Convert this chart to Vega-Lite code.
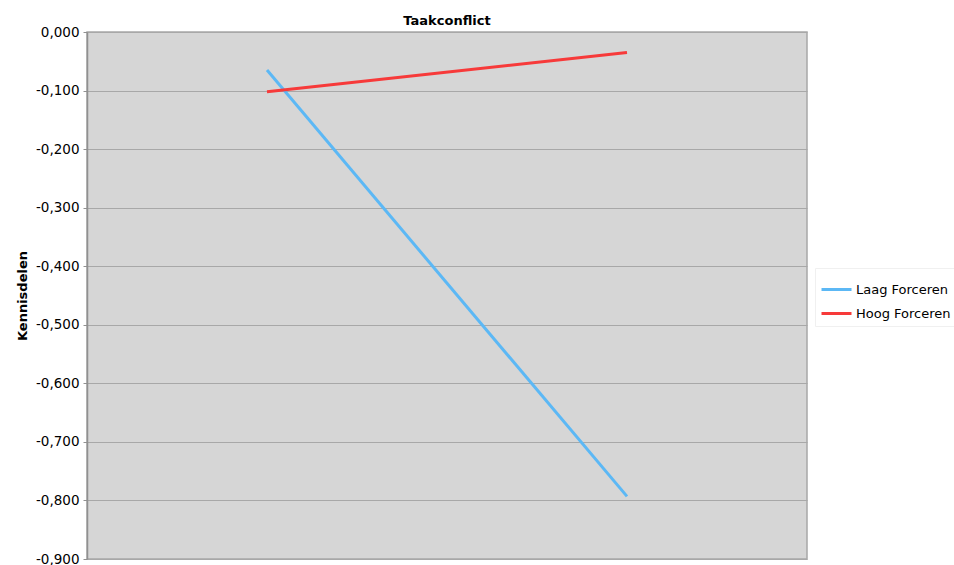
{
  "$schema": "https://vega.github.io/schema/vega-lite/v6.json",
  "autosize": "none",
  "padding": {"left": 87, "top": 32, "right": 147, "bottom": 6},
  "width": 720,
  "height": 527,
  "background": "white",
  "title": {"text": "Taakconflict", "font": "DejaVu Sans", "fontSize": 13, "fontWeight": "bold", "color": "black", "offset": -3, "anchor": "middle"},
  "config": {
    "locale": {"number": {"decimal": ",", "thousands": ".", "grouping": [3], "currency": ["€", ""], "minus": "-"}},
    "view": {"fill": "#d6d6d6", "stroke": "#a8a8a8", "strokeWidth": 1.5},
    "font": "DejaVu Sans"
  },
  "data": {"values": [
    {"conditie": "Laag", "groep": "Laag Forceren", "waarde": -0.065},
    {"conditie": "Hoog", "groep": "Laag Forceren", "waarde": -0.793},
    {"conditie": "Laag", "groep": "Hoog Forceren", "waarde": -0.102},
    {"conditie": "Hoog", "groep": "Hoog Forceren", "waarde": -0.035}
  ]},
  "mark": {"type": "line", "strokeWidth": 3},
  "encoding": {
    "x": {"field": "conditie", "type": "nominal", "sort": ["Laag", "Hoog"],
      "scale": {"type": "point", "padding": 0.5},
      "axis": {"labels": false, "ticks": false, "title": null, "domain": false, "grid": false}},
    "y": {"field": "waarde", "type": "quantitative",
      "scale": {"domain": [-0.9, 0], "nice": false, "zero": false},
      "axis": {"title": "Kennisdelen", "titleFont": "DejaVu Sans", "titleFontSize": 13, "titleFontWeight": "bold", "titleColor": "black", "titlePadding": 6,
        "values": [0, -0.1, -0.2, -0.3, -0.4, -0.5, -0.6, -0.7, -0.8, -0.9],
        "format": ",.3f", "labelFontSize": 13.5, "labelColor": "black", "labelPadding": 4,
        "tickSize": 4, "tickColor": "#909090", "domainColor": "#909090", "domainWidth": 1.5,
        "gridColor": "#a8a8a8", "gridWidth": 1.2}},
    "color": {"field": "groep", "type": "nominal", "sort": ["Laag Forceren", "Hoog Forceren"],
      "scale": {"domain": ["Laag Forceren", "Hoog Forceren"], "range": ["#5cb8f5", "#f73a3a"]},
      "legend": {"title": null, "orient": "none", "legendX": 728, "legendY": 236,
        "symbolType": "stroke", "symbolSize": 900, "symbolStrokeWidth": 3,
        "labelFontSize": 13, "labelColor": "black", "labelOffset": 3, "rowPadding": -17,
        "strokeColor": "#f0f0f0", "padding": 5, "fillColor": "white"}}
  }
}
